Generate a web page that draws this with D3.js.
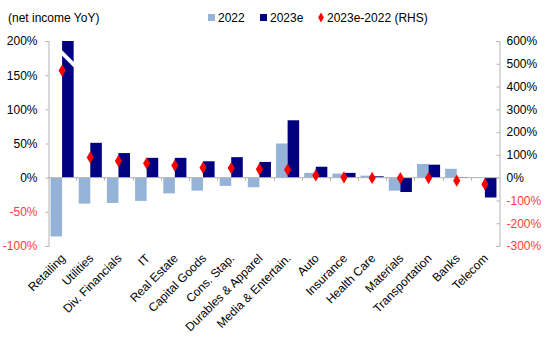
<!DOCTYPE html>
<html>
<head>
<meta charset="utf-8">
<script src="https://cdn.jsdelivr.net/npm/d3@7"></script>
<style>
  html, body { margin: 0; padding: 0; background: #fff; }
  svg { display: block; font-family: "Liberation Sans", Arial, sans-serif; }
</style>
</head>
<body>
<div id="chart"></div>
<script>
const categories = ['Retailing', 'Utilities', 'Div. Financials', 'IT', 'Real Estate', 'Capital Goods',
  'Cons. Stap.', 'Durables & Apparel', 'Media & Entertain.', 'Auto', 'Insurance', 'Health Care',
  'Materials', 'Transportation', 'Banks', 'Telecom'];
const series = ['2022', '2023e'];
const values2022 = [-86, -38, -37, -34, -23, -19, -12, -14, 50, 7, 6, 3, -19, 20, 13, 0.5];
const values2023e = [384, 51, 36, 29, 29, 24, 30, 23, 84, 16, 7, 2, -21, 19, 1, -29];
const diffRHS = [470, 89, 73, 63, 53, 44, 42, 37, 35, 10, 1, -1, -2, -2, -13, -29];
const leftTicks = [-100, -50, 0, 50, 100, 150, 200];
const rightTicks = [-300, -200, -100, 0, 100, 200, 300, 400, 500, 600];

const W = 550, H = 344;
const colors = { '2022': '#95b3d7', '2023e': '#000080', diff: '#ff0000' };
const axisGrey = '#b3b3b3';
const negRed = '#ff3b3b';
const fontSize = '12px';

const svg = d3.select('#chart').append('svg')
  .attr('width', W).attr('height', H);

const x0 = d3.scaleBand().domain(categories).range([48, 499]).padding(0);
const x1 = d3.scaleBand().domain(series)
  .range([x0.bandwidth() * 0.09, x0.bandwidth() * 0.91]).padding(0);
const yL = d3.scaleLinear().domain([-100, 200]).range([246, 41]);
const yR = d3.scaleLinear().domain([-300, 600]).range([246, 41]);

// bars
const rows = categories.map((c, i) => ({ cat: c, vals: [values2022[i], values2023e[i]], diff: diffRHS[i] }));
const groups = svg.append('g').selectAll('g')
  .data(rows).join('g')
  .attr('transform', d => `translate(${x0(d.cat)},0)`);

groups.selectAll('rect')
  .data(d => series.map((s, j) => ({ s, v: Math.max(-100, Math.min(200, d.vals[j])) })))
  .join('rect')
  .attr('x', d => x1(d.s))
  .attr('width', x1.bandwidth())
  .attr('y', d => yL(Math.max(0, d.v)))
  .attr('height', d => Math.abs(yL(d.v) - yL(0)))
  .attr('fill', d => colors[d.s]);

// axis break on the clipped Retailing bar
const bx = x0(categories[0]) + x1('2023e');
const bw = x1.bandwidth();
svg.append('path')
  .attr('d', `M${bx - 1},${yL(180)} L${bx + bw + 1},${yL(160)} L${bx + bw + 1},${yL(168)} L${bx - 1},${yL(188)} Z`)
  .attr('fill', '#fff');

// zero line with category ticks
svg.append('line')
  .attr('x1', 48).attr('x2', 499)
  .attr('y1', yL(0)).attr('y2', yL(0))
  .attr('stroke', axisGrey);
svg.append('g').selectAll('line')
  .data(categories.slice(1))
  .join('line')
  .attr('x1', d => Math.round(x0(d)) + 0.5).attr('x2', d => Math.round(x0(d)) + 0.5)
  .attr('y1', yL(0)).attr('y2', yL(0) + 3)
  .attr('stroke', axisGrey);

// diamonds (RHS)
svg.append('g').selectAll('path')
  .data(rows).join('path')
  .attr('d', d3.symbol(d3.symbolDiamond, 44))
  .attr('transform', d => `translate(${x0(d.cat) + x0.bandwidth() / 2},${yR(d.diff)})`)
  .attr('fill', colors.diff);

// left axis
const axL = svg.append('g')
  .attr('transform', 'translate(48.5,0)')
  .call(d3.axisLeft(yL).tickValues(leftTicks).tickSize(3).tickPadding(8).tickFormat(d => d + '%'));
axL.selectAll('path, line').attr('stroke', axisGrey);
axL.selectAll('text')
  .attr('font-size', fontSize)
  .attr('font-family', '"Liberation Sans", Arial, sans-serif')
  .attr('fill', d => d < 0 ? negRed : '#000');

// right axis
const axR = svg.append('g')
  .attr('transform', 'translate(499.5,0)')
  .call(d3.axisRight(yR).tickValues(rightTicks).tickSizeInner(-3).tickSizeOuter(-3).tickPadding(7).tickFormat(d => d + '%'));
axR.selectAll('path, line').attr('stroke', axisGrey);
axR.selectAll('text')
  .attr('font-size', fontSize)
  .attr('font-family', '"Liberation Sans", Arial, sans-serif')
  .attr('fill', d => d < 0 ? negRed : '#000');

// category labels
svg.append('g').selectAll('text')
  .data(categories).join('text')
  .attr('transform', d => `translate(${x0(d) + x0.bandwidth() / 2 + 4},${259}) rotate(-45)`)
  .attr('text-anchor', 'end')
  .attr('font-size', fontSize)
  .attr('fill', '#000')
  .text(d => d);

// title
svg.append('text')
  .attr('x', 8).attr('y', 22)
  .attr('font-size', fontSize)
  .attr('fill', '#000')
  .text('(net income YoY)');

// legend
const legend = [
  { label: '2022', color: colors['2022'], x: 208, shape: 'square' },
  { label: '2023e', color: colors['2023e'], x: 260, shape: 'square' },
  { label: '2023e-2022 (RHS)', color: colors.diff, x: 317, shape: 'diamond' }
];
const lg = svg.append('g').selectAll('g').data(legend).join('g')
  .attr('transform', d => `translate(${d.x},18)`);
lg.filter(d => d.shape === 'square').append('rect')
  .attr('x', 0).attr('y', -4).attr('width', 7).attr('height', 7)
  .attr('fill', d => d.color);
lg.filter(d => d.shape === 'diamond').append('path')
  .attr('d', d3.symbol(d3.symbolDiamond, 28))
  .attr('transform', 'translate(4,-0.5)')
  .attr('fill', d => d.color);
lg.append('text')
  .attr('x', 10)
  .attr('y', 4)
  .attr('font-size', fontSize)
  .attr('fill', '#000')
  .text(d => d.label);
</script>
</body>
</html>
